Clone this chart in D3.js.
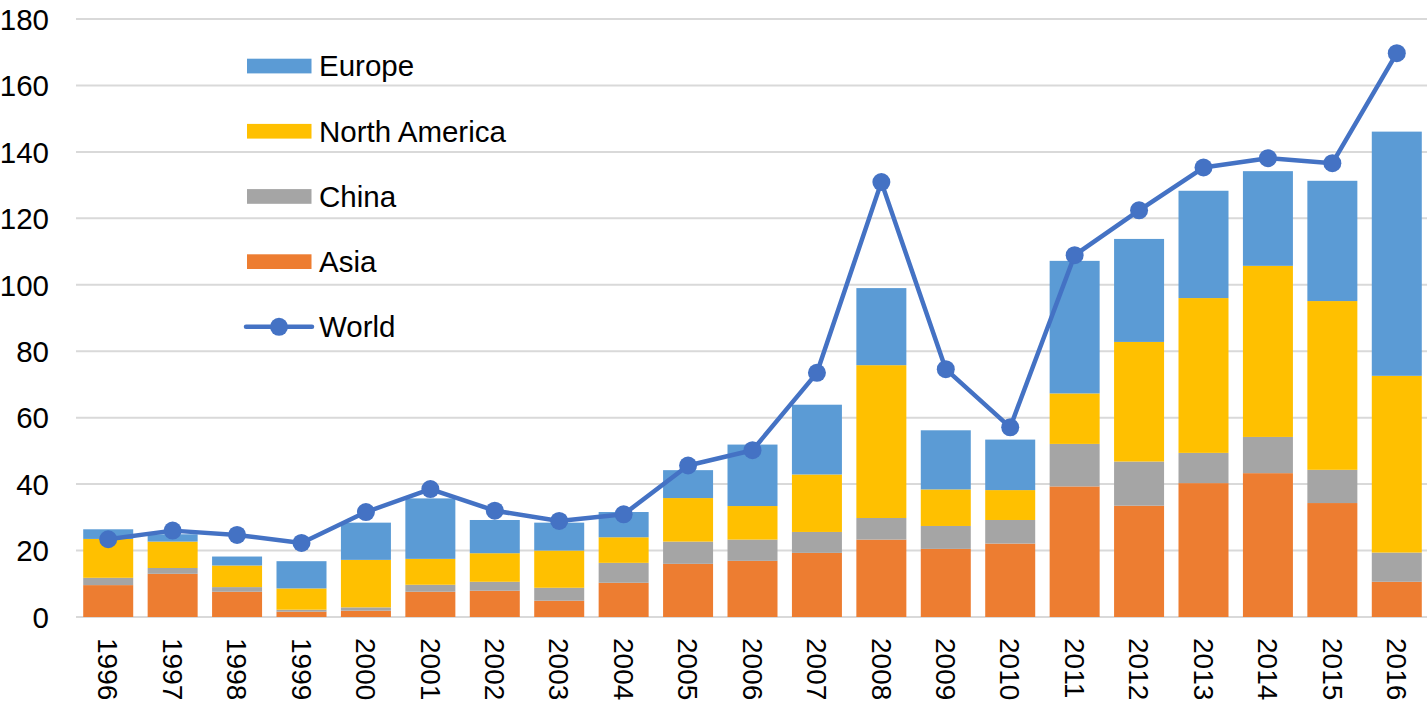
<!DOCTYPE html>
<html>
<head>
<meta charset="utf-8">
<script src="https://cdn.jsdelivr.net/npm/d3@7"></script>
<style>
  html, body { margin: 0; padding: 0; background: #fff; }
  svg { display: block; font-family: "Liberation Sans", Arial, sans-serif; }
</style>
</head>
<body>
<svg id="chart" width="1427" height="703"></svg>
<script>
const years = ["1996","1997","1998","1999","2000","2001","2002","2003","2004","2005","2006","2007","2008","2009","2010","2011","2012","2013","2014","2015","2016"];
const asia = [9.6, 13.0, 7.6, 1.6, 1.9, 7.6, 7.9, 4.9, 10.3, 16.0, 16.9, 19.3, 23.3, 20.5, 22.1, 39.3, 33.5, 40.3, 43.3, 34.3, 10.6];
const china = [2.2, 1.75, 1.4, 0.6, 1.0, 2.1, 2.7, 3.9, 6.0, 6.7, 6.4, 6.3, 6.5, 6.9, 7.1, 12.8, 13.3, 9.1, 10.9, 10.0, 8.8];
const northAmerica = [11.7, 7.95, 6.5, 6.4, 14.3, 7.8, 8.6, 11.2, 7.7, 13.1, 10.1, 17.3, 46.0, 11.0, 9.0, 15.2, 36.0, 46.6, 51.5, 50.8, 53.2];
const europe = [2.9, 2.2, 2.7, 8.2, 11.2, 18.2, 10.0, 8.4, 7.6, 8.4, 18.5, 21.0, 23.2, 17.8, 15.2, 39.9, 31.0, 32.3, 28.5, 36.2, 73.5];
const world = [23.4, 26.0, 24.7, 22.3, 31.6, 38.5, 32.0, 28.9, 30.9, 45.6, 50.2, 73.5, 130.9, 74.6, 57.1, 108.9, 122.4, 135.3, 138.1, 136.6, 169.7];
const yTicks = [0, 20, 40, 60, 80, 100, 120, 140, 160, 180];

const seriesKeys = ["Asia", "China", "North America", "Europe"];
const seriesData = { "Asia": asia, "China": china, "North America": northAmerica, "Europe": europe };
const colors = { "Asia": "#ED7D31", "China": "#A5A5A5", "North America": "#FFC000", "Europe": "#5B9BD5", "World": "#4472C4" };

const rows = years.map((yr, i) => {
  const r = { year: yr };
  seriesKeys.forEach(k => r[k] = seriesData[k][i]);
  return r;
});

const svg = d3.select("#chart");
const M = { left: 76, right: 1429, top: 19, bottom: 617 };
const fontSize = 29.5;

const x = d3.scaleBand().domain(years).range([M.left, M.right]).paddingInner(0.224).paddingOuter(0.112);
const y = d3.scaleLinear().domain([0, 180]).range([M.bottom, M.top]);

// gridlines
svg.append("g").selectAll("line").data(yTicks).join("line")
  .attr("x1", M.left).attr("x2", 1427)
  .attr("y1", d => y(d)).attr("y2", d => y(d))
  .attr("stroke", "#D9D9D9").attr("stroke-width", 2);

// y-axis labels
const yAxis = d3.axisLeft(y).tickValues(yTicks).tickSize(0).tickPadding(0);
const ya = svg.append("g").attr("transform", `translate(${M.left - 27},0)`).call(yAxis);
ya.select(".domain").remove();
ya.selectAll("text").attr("font-size", fontSize).attr("fill", "#000")
  .attr("font-family", "Liberation Sans, Arial, sans-serif").attr("dy", "0.35em");

// stacked bars
const stack = d3.stack().keys(seriesKeys)(rows);
svg.append("g").selectAll("g").data(stack).join("g")
  .attr("fill", d => colors[d.key])
  .selectAll("rect").data(d => d).join("rect")
  .attr("x", d => x(d.data.year))
  .attr("width", x.bandwidth())
  .attr("y", d => y(d[1]))
  .attr("height", d => y(d[0]) - y(d[1]));

// x-axis labels
const xAxis = d3.axisBottom(x).tickSize(0).tickPadding(0);
const xa = svg.append("g").attr("transform", `translate(0,${M.bottom})`).call(xAxis);
xa.select(".domain").remove();
xa.selectAll("text")
  .attr("font-size", 28).attr("fill", "#000")
  .attr("font-family", "Liberation Sans, Arial, sans-serif")
  .attr("text-anchor", "start")
  .attr("transform", "translate(0,21) rotate(90)")
  .attr("x", 0).attr("y", 0).attr("dy", "0.35em");

// world line
const cx = d => x(d) + x.bandwidth() / 2;
const line = d3.line().x((d, i) => cx(years[i])).y(d => y(d));
svg.append("path").datum(world)
  .attr("d", line).attr("fill", "none")
  .attr("stroke", colors.World).attr("stroke-width", 4.5).attr("stroke-linejoin", "round");
svg.append("g").selectAll("circle").data(world).join("circle")
  .attr("cx", (d, i) => cx(years[i])).attr("cy", d => y(d))
  .attr("r", 9).attr("fill", colors.World);

// legend
const legendItems = ["Europe", "North America", "China", "Asia", "World"];
const lg = svg.append("g");
legendItems.forEach((k, i) => {
  const ly = 66 + i * 65.2;
  if (k === "World") {
    lg.append("line").attr("x1", 246).attr("x2", 312).attr("y1", ly).attr("y2", ly)
      .attr("stroke", colors.World).attr("stroke-width", 4.5).attr("stroke-linecap", "round");
    lg.append("circle").attr("cx", 279).attr("cy", ly).attr("r", 9).attr("fill", colors.World);
  } else {
    lg.append("rect").attr("x", 247).attr("y", ly - 7.3).attr("width", 64.5).attr("height", 14.7)
      .attr("fill", colors[k]);
  }
  lg.append("text").attr("x", 319).attr("y", ly).attr("dy", "0.35em")
    .attr("font-size", fontSize).attr("fill", "#000").text(k);
});
</script>
</body>
</html>
